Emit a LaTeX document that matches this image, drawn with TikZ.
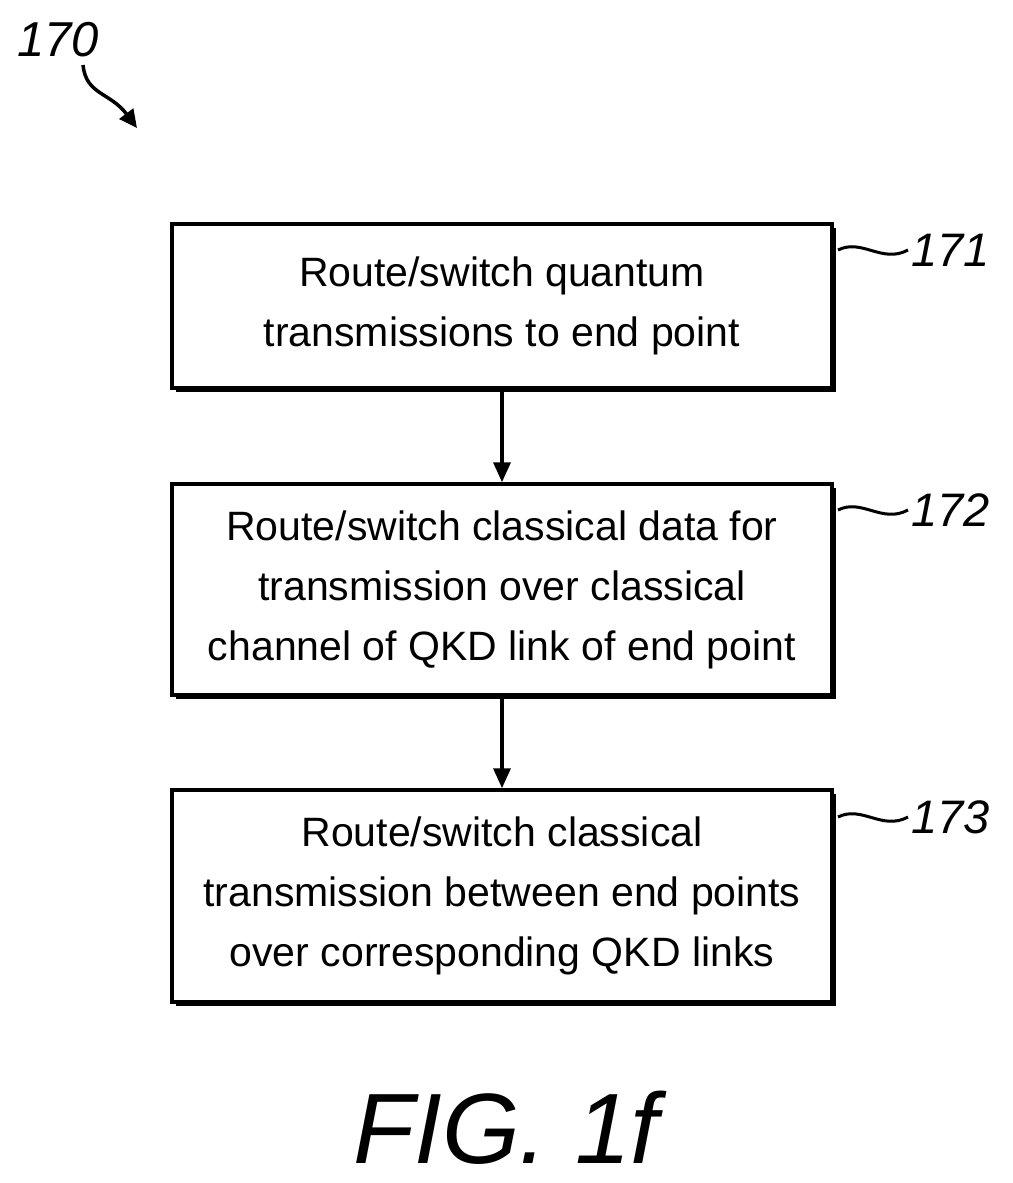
\documentclass[tikz,border=0pt]{standalone}
\usepackage{fontspec}
\setmainfont{Liberation Sans}
\usetikzlibrary{arrows.meta}
\begin{document}
\begin{tikzpicture}[x=1pt,y=-1pt,
 box/.style={draw,line width=3.5pt,minimum width=660pt,inner sep=0pt,align=center,font=\fontsize{41}{60}\selectfont},
 lab/.style={font=\itshape\fontsize{47}{50}\selectfont,anchor=west},
 arr/.style={line width=3.5pt,-{Triangle[length=20pt,width=17pt]}}]
\useasboundingbox (0,0) rectangle (1012,1183);
\foreach \a/\b in {224/388,484/695,790/1002}{
 \fill (176,\a+4) rectangle (836,\b+4);}
\node[box,minimum height=164pt,fill=white] (b1) at (502,306) {Route/switch quantum\\transmissions to end point};
\node[box,minimum height=211pt,fill=white] (b2) at (502,589.5) {Route/switch classical data for\\transmission over classical\\channel of QKD link of end point};
\node[box,minimum height=212pt,fill=white] (b3) at (502,896) {Route/switch classical\\transmission between end points\\over corresponding QKD links};
\draw[arr] (b1) -- (b2);
\draw[arr] (b2) -- (b3);
\node[lab] (l1) at (908,250) {171};
\node[lab] (l2) at (908,510) {172};
\node[lab] (l3) at (908,817) {173};
\foreach \n/\y in {l1/250,l2/510,l3/817}{
 \draw[line width=3pt] (838,\y) .. controls (862,\y-12) and (882,\y+14) .. (\n.west);}
\node[font=\itshape\fontsize{49}{50}\selectfont] (t) at (58,40) {170};
\coordinate (ta) at (137,128);
\draw[line width=3.5pt,-{Triangle[length=18pt,width=17pt]}] (83,65) .. controls (86,95) and (110,92) .. (ta);
\node[font=\itshape\fontsize{100}{110}\selectfont] (fig) at (506,1128) {FIG. 1f};
\end{tikzpicture}
\end{document}
